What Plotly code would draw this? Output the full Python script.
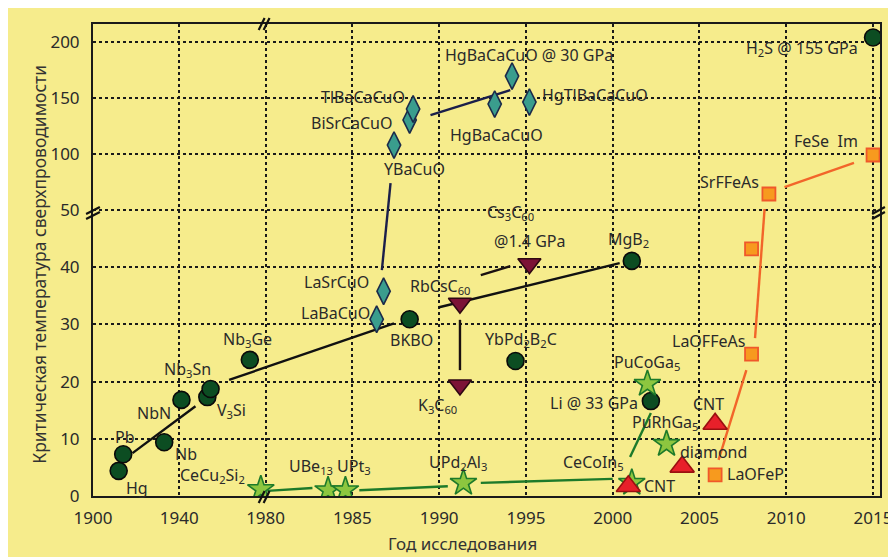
import numpy as np
import plotly.graph_objects as go

# ---------------- data (year of discovery, Tc in K) ----------------
conv_names = ["Hg", "Pb", "Nb", "NbN", "V3Si", "Nb3Sn", "Nb3Ge", "BKBO", "YbPd2B2C", "MgB2", "Li @ 33 GPa", "H2S @ 155 GPa"]
conv_year = [1911.9, 1914.0, 1933.0, 1941.0, 1953.0, 1954.5, 1972.7, 1988.3, 1994.4, 2001.1, 2002.2, 2015.0]
conv_tc = [4.4, 7.3, 9.4, 16.8, 17.3, 18.7, 23.8, 30.9, 23.6, 41.1, 16.6, 204.0]

cup_names = ["LaBaCuO", "LaSrCuO", "YBaCuO", "BiSrCaCuO", "TlBaCaCuO", "HgBaCaCuO", "HgBaCaCuO @ 30 GPa", "HgTlBaCaCuO"]
cup_year = [1986.4, 1986.8, 1987.4, 1988.3, 1988.5, 1993.2, 1994.2, 1995.2]
cup_tc = [30.9, 35.8, 108.0, 130.4, 140.2, 144.6, 169.6, 146.4]

ful_names = ["RbCsC60", "K3C60", "Cs3C60 @1.4 GPa"]
ful_year = [1991.2, 1991.2, 1995.2]
ful_tc = [33.7, 19.4, 40.6]

hf_names = ["CeCu2Si2", "UBe13", "UPt3", "UPd2Al3", "CeCoIn5", "PuCoGa5", "PuRhGa5"]
hf_year = [1977.8, 1983.6, 1984.6, 1991.4, 2001.1, 2002.0, 2003.1]
hf_tc = [1.2, 1.0, 1.0, 2.3, 2.3, 19.6, 9.1]

carb_names = ["CNT", "diamond", "CNT"]
carb_year = [2000.9, 2004.0, 2005.9]
carb_tc = [1.7, 5.1, 12.6]

fe_names = ["LaOFeP", "LaOFFeAs", "LaOFFeAs (pressure)", "SrFFeAs", "FeSe  Im"]
fe_year = [2005.9, 2008.0, 2008.0, 2009.0, 2015.0]
fe_tc = [3.7, 24.8, 43.2, 64.3, 99.1]

# trend segments (pairs of endpoints)
conv_trend_year = [1918.3, 1947.5, None, 1963.1, 1987.4, None, 1990.0, 2000.4]
conv_trend_tc = [7.5, 15.7, None, 20.3, 30.2, None, 33.0, 40.7]
cup_trend_year = [1986.7, 1987.2, None, 1989.5, 1994.1]
cup_trend_tc = [39.5, 74.1, None, 134.8, 157.1]
ful_trend_year = [1991.2, 1991.2, None, 1992.4, 1994.1]
ful_trend_tc = [30.8, 22.0, None, 38.6, 40.2]
hf_trend_year = [1980.1, 1982.7, None, 1985.4, 1990.5, None, 1992.4, 2000.0, None, 2001.0, 2002.2]
hf_trend_tc = [0.9, 1.4, None, 1.0, 1.7, None, 2.3, 3.0, None, 6.8, 14.5]
fe_trend_year = [2006.1, 2007.7, None, 2008.2, 2008.75, None, 2009.9, 2013.9]
fe_trend_tc = [6.3, 22.0, None, 27.6, 50.9, None, 70.5, 92.0]

# labels: text, year, Tc of label centre
label_text = ["Hg", "Pb", "Nb", "NbN", "Nb<sub>3</sub>Sn", "V<sub>3</sub>Si", "Nb<sub>3</sub>Ge",
              "CeCu<sub>2</sub>Si<sub>2</sub>", "UBe<sub>13</sub>", "UPt<sub>3</sub>", "UPd<sub>2</sub>Al<sub>3</sub>",
              "CeCoIn<sub>5</sub>", "LaBaCuO", "LaSrCuO", "BKBO", "RbCsC<sub>60</sub>", "K<sub>3</sub>C<sub>60</sub>",
              "YbPd<sub>2</sub>B<sub>2</sub>C", "Cs<sub>3</sub>C<sub>60</sub>", "@1.4 GPa", "MgB<sub>2</sub>",
              "Li @ 33 GPa", "PuCoGa<sub>5</sub>", "PuRhGa<sub>5</sub>", "CNT", "diamond", "CNT", "LaOFeP",
              "LaOFFeAs", "SrFFeAs", "FeSe  Im", "H<sub>2</sub>S @ 155 GPa", "HgBaCaCuO @ 30 GPa",
              "HgTlBaCaCuO", "TlBaCaCuO", "BiSrCaCuO", "HgBaCaCuO", "YBaCuO"]
label_year = [1920.6, 1914.6, 1943.0, 1928.3, 1943.9, 1964.0, 1971.8,
              1955.4, 1982.6, 1985.1, 1991.1,
              1998.9, 1984.0, 1984.1, 1988.4, 1990.1, 1989.9,
              1994.7, 1994.1, 1995.2, 2000.9,
              1998.9, 2002.0, 2003.0, 2002.7, 2005.8, 2005.5, 2008.2,
              2005.5, 2006.7, 2012.3, 2010.9, 1995.2,
              1999.0, 1985.6, 1985.0, 1993.3, 1988.6]
label_tc = [1.4, 10.3, 7.4, 14.5, 22.2, 14.9, 27.3,
            3.5, 5.1, 5.1, 5.9,
            5.9, 32.0, 37.4, 27.3, 36.7, 15.9,
            27.3, 49.5, 44.6, 44.9,
            16.3, 23.3, 12.8, 1.7, 7.7, 16.1, 3.8,
            27.1, 75.0, 111.6, 193.8, 188.4,
            152.7, 150.9, 127.7, 117.0, 86.6]

x_ticks = [1900, 1940, 1980, 1985, 1990, 1995, 2000, 2005, 2010, 2015]
y_ticks = [0, 10, 20, 30, 40, 50, 100, 150, 200]

# ---------------- broken-axis transforms ----------------
X_BREAK, X_LEFT_SCALE = 1980.0, 0.12429   # 1900-1980 compressed
Y_BREAK, Y_TOP_SCALE = 50.0, 0.1958        # 50-200 compressed


def fx(v):
    out = []
    for t in v:
        if t is None:
            out.append(None)
        elif t < X_BREAK:
            out.append((t - X_BREAK) * X_LEFT_SCALE)
        else:
            out.append(t - X_BREAK)
    return out


def fy(v):
    out = []
    for t in v:
        if t is None:
            out.append(None)
        elif t <= Y_BREAK:
            out.append(t)
        else:
            out.append(Y_BREAK + (t - Y_BREAK) * Y_TOP_SCALE)
    return out


FONT = "Noto Sans"
TXT = "#2a2a2a"
BG = "#F6EC8C"

fig = go.Figure()

def add_line(xs, ys, color, width=2.4):
    fig.add_trace(go.Scatter(x=fx(xs), y=fy(ys), mode="lines", line=dict(color=color, width=width),
                             hoverinfo="skip", showlegend=False))

add_line(conv_trend_year, conv_trend_tc, "#111111")
add_line(cup_trend_year, cup_trend_tc, "#1b1f4a")
add_line(ful_trend_year, ful_trend_tc, "#1a1010")
add_line(hf_trend_year, hf_trend_tc, "#1d7a2a")
add_line(fe_trend_year, fe_trend_tc, "#f2652a")

def add_pts(names, xs, ys, symbol, size, fill, edge, ew=1.6):
    fig.add_trace(go.Scatter(x=fx(xs), y=fy(ys), mode="markers", text=names,
                             marker=dict(symbol=symbol, size=size, color=fill, line=dict(color=edge, width=ew)),
                             showlegend=False))

add_pts(conv_names, conv_year, conv_tc, "circle", 17, "#0c4d22", "#0a0a0a")
add_pts(cup_names, cup_year, cup_tc, "diamond-tall", 19, "#3a9d8d", "#1b2a4a")
add_pts(ful_names, ful_year, ful_tc, "triangle-down", 20, "#7c1236", "#2e0812")
add_pts(hf_names, hf_year, hf_tc, "star", 20, "#8dc63f", "#1d7a2a")
add_pts(carb_names, carb_year, carb_tc, "triangle-up", 21, "#e8202a", "#9a1010")
add_pts(fe_names, fe_year, fe_tc, "square", 13, "#f79a1e", "#f0582a", 1.8)

annotations = []
for t, xv, yv in zip(label_text, fx(label_year), fy(label_tc)):
    annotations.append(dict(x=xv, y=yv, xref="x", yref="y", text=t, showarrow=False,
                            xanchor="center", yanchor="middle",
                            font=dict(family=FONT, size=16, color=TXT)))

# plot box in window pixels (the page places the figure 8 px from the window edge)
W, H, L, T = 798.0, 472.0, 93.0, 24.0
def px(xp):
    return (xp - L) / W
def py(yp):
    return (T + H - yp) / H

# axis titles
annotations.append(dict(x=px(38), y=py(264), xref="paper", yref="paper",
                        text="Критическая температура сверхпроводимости", textangle=-90, showarrow=False,
                        xanchor="center", yanchor="middle", font=dict(family=FONT, size=17.5, color="#333333")))
annotations.append(dict(x=px(468), y=py(543), xref="paper", yref="paper",
                        text="Год исследования", showarrow=False,
                        xanchor="center", yanchor="middle", font=dict(family=FONT, size=17, color="#333333")))

shapes = []
def brk(x0, y0, x1, y1):
    shapes.append(dict(type="line", xref="paper", yref="paper", x0=px(x0), y0=py(y0), x1=px(x1), y1=py(y1),
                       line=dict(color="#111111", width=2.2), layer="above"))
# top and bottom (x-break)
for dx in (0, 5):
    brk(261 + dx, 30, 267 + dx, 18)
    brk(261 + dx, 503, 267 + dx, 491)
# left and right (y-break)
for dy in (0, 5):
    brk(86, 214 + dy, 100, 207 + dy)
    brk(883, 214 + dy, 896, 207 + dy)

axis_common = dict(showline=True, linecolor="#1a1a1a", linewidth=2, mirror=True,
                   showgrid=True, gridcolor="#1a1a1a", gridwidth=1.6, griddash="dot",
                   zeroline=False, ticks="", tickfont=dict(family=FONT, size=17, color="#2a2a2a"))

fig.update_layout(
    width=896, height=557,
    margin=dict(l=85, r=13, t=16, b=69),
    paper_bgcolor=BG, plot_bgcolor=BG,
    xaxis=dict(range=[fx([1900])[0], 35.4], tickmode="array", tickvals=fx(x_ticks),
               ticktext=[str(v) for v in x_ticks], ticklabelstandoff=6, **axis_common),
    yaxis=dict(range=[0, 82.52], tickmode="array", tickvals=fy(y_ticks),
               ticktext=[str(v) for v in y_ticks], ticklabelstandoff=8, **axis_common),
    annotations=annotations,
    shapes=shapes,
    showlegend=False,
)

fig.write_html("out.html")
